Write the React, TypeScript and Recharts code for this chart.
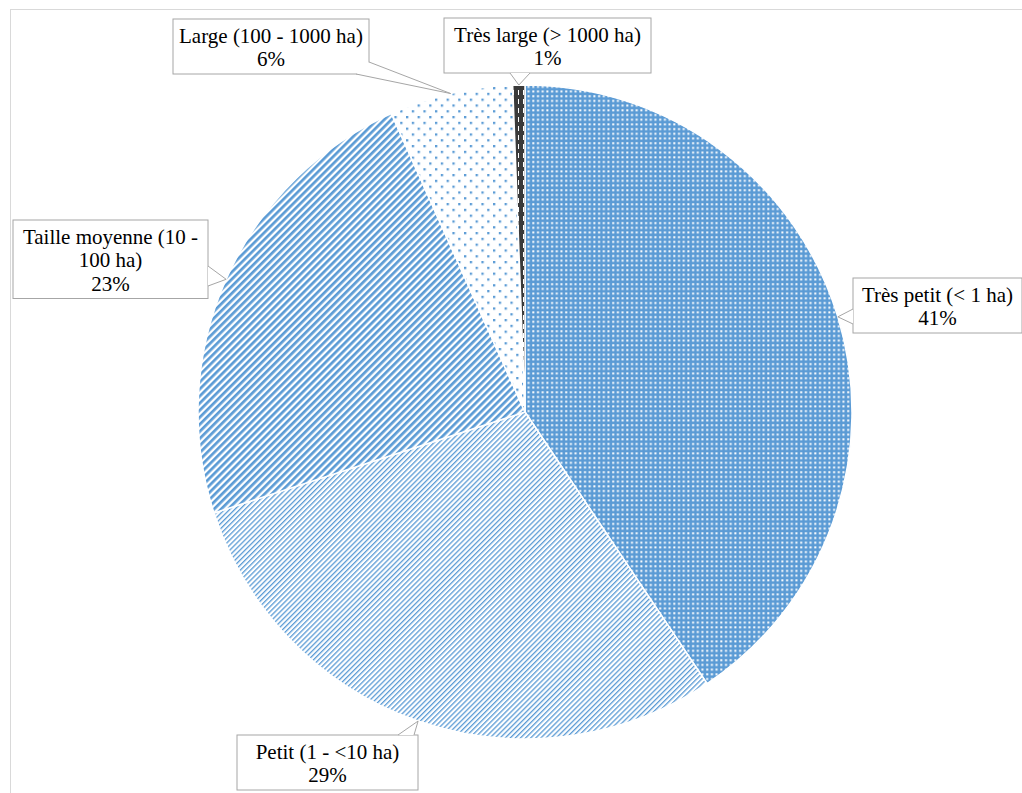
import { Pie, PieChart, Cell } from 'recharts';

const categories = [
  'Très petit (< 1 ha)',
  'Petit (1 - <10 ha)',
  'Taille moyenne (10 - 100 ha)',
  'Large (100 - 1000 ha)',
  'Très large (> 1000 ha)',
];
const shares = [40.6, 29.4, 23.3, 6.1, 0.6];
const percentLabels = ['41%', '29%', '23%', '6%', '1%'];
const wrappedNames = [
  ['Très petit (< 1 ha)'],
  ['Petit (1 - <10 ha)'],
  ['Taille moyenne (10 -', '100 ha)'],
  ['Large (100 - 1000 ha)'],
  ['Très large (> 1000 ha)'],
];

const data = categories.map((name, i) => ({ name, value: shares[i] }));

const fills = ['url(#pTresPetit)', 'url(#pPetit)', 'url(#pMoyenne)', 'url(#pLarge)', 'url(#pTresLarge)'];

// callout boxes: box rect + wedge base points (the tip comes from the slice)
const callouts = [
  { x: 853, y: 278, w: 169, base: [[853, 309], [853, 324]] },
  { x: 237, y: 735, w: 181, base: [[398, 735], [414, 735]] },
  { x: 13, y: 220, w: 195, base: [[208, 266], [208, 286]] },
  { x: 173, y: 19, w: 196, base: [[369, 62], [356, 74]] },
  { x: 444, y: 18, w: 207, base: [[510, 73], [530, 73]] },
];

const RAD = Math.PI / 180;
const LINE_H = 23.5;
const SERIF = '"Liberation Serif", "Times New Roman", serif';

function renderCallout(props: any) {
  const { cx, cy, midAngle, outerRadius, index } = props;
  const c = callouts[index];
  const tx = cx + outerRadius * Math.cos(-midAngle * RAD);
  const ty = cy + outerRadius * Math.sin(-midAngle * RAD);
  const lines = [...wrappedNames[index], percentLabels[index]];
  const h = lines.length * LINE_H + 8;
  const [b1, b2] = c.base;
  const mx = c.x + c.w / 2;
  return (
    <g key={'co' + index}>
      <rect x={c.x} y={c.y} width={c.w} height={h} fill='#fff' stroke='#a6a6a6' strokeWidth={1} />
      <polygon points={`${b1[0]},${b1[1]} ${tx},${ty} ${b2[0]},${b2[1]}`} fill='#fff' stroke='none' />
      <polyline points={`${b1[0]},${b1[1]} ${tx},${ty} ${b2[0]},${b2[1]}`} fill='none' stroke='#a6a6a6' strokeWidth={1} />
      {lines.map((t, i) => (
        <text
          key={i}
          x={mx}
          y={c.y + 23.5 + i * LINE_H}
          textAnchor='middle'
          style={{ fontFamily: SERIF, fontSize: 21, fill: '#000' }}
        >
          {t}
        </text>
      ))}
    </g>
  );
}

export default function App() {
  return (
    <div style={{ position: 'absolute', left: 0, top: 0, width: 1022, height: 793, overflow: 'hidden', background: '#fff', fontFamily: SERIF }}>
      <div
        style={{
          position: 'absolute',
          left: 10,
          top: 9,
          width: 1100,
          height: 900,
          border: '1.5px solid #d9d9d9',
        }}
      />
      <PieChart
        width={1022}
        height={793}
        margin={{ top: 0, right: 0, bottom: 0, left: 0 }}
        style={{ position: 'absolute', left: 0, top: 0 }}
      >
        <defs>
          <pattern id='pTresPetit' width={4.7} height={4.7} patternUnits='userSpaceOnUse'>
            <rect width={4.7} height={4.7} fill='#5b9bd5' />
            <rect x={1.2} y={1.2} width={2} height={2} fill='#fff' />
          </pattern>
          <pattern id='pPetit' width={3.6} height={10} patternUnits='userSpaceOnUse' patternTransform='rotate(45)'>
            <rect width={3.6} height={10} fill='#fff' />
            <rect width={1.3} height={10} fill='#5b9bd5' />
          </pattern>
          <pattern id='pMoyenne' width={5} height={10} patternUnits='userSpaceOnUse' patternTransform='rotate(45)'>
            <rect width={5} height={10} fill='#fff' />
            <rect width={2.7} height={10} fill='#5b9bd5' />
          </pattern>
          <pattern id='pLarge' width={11.6} height={11.6} patternUnits='userSpaceOnUse'>
            <rect width={11.6} height={11.6} fill='#fff' />
            <rect x={0} y={0} width={2.3} height={2.3} fill='#5b9bd5' />
            <rect x={5.8} y={5.8} width={2.3} height={2.3} fill='#5b9bd5' />
          </pattern>
          <pattern id='pTresLarge' width={5} height={9} patternUnits='userSpaceOnUse'>
            <rect width={5} height={9} fill='#3a3a3a' />
            <rect x={3} y={0} width={1} height={5} fill='#fff' />
          </pattern>
        </defs>
        <Pie
          data={data}
          dataKey='value'
          nameKey='name'
          cx={525}
          cy={412}
          outerRadius={327}
          startAngle={90}
          endAngle={-270}
          stroke='#fff'
          strokeWidth={1.5}
          labelLine={false}
          label={renderCallout}
          isAnimationActive={false}
        >
          {data.map((d, i) => (
            <Cell key={d.name} fill={fills[i]} />
          ))}
        </Pie>
      </PieChart>
    </div>
  );
}
